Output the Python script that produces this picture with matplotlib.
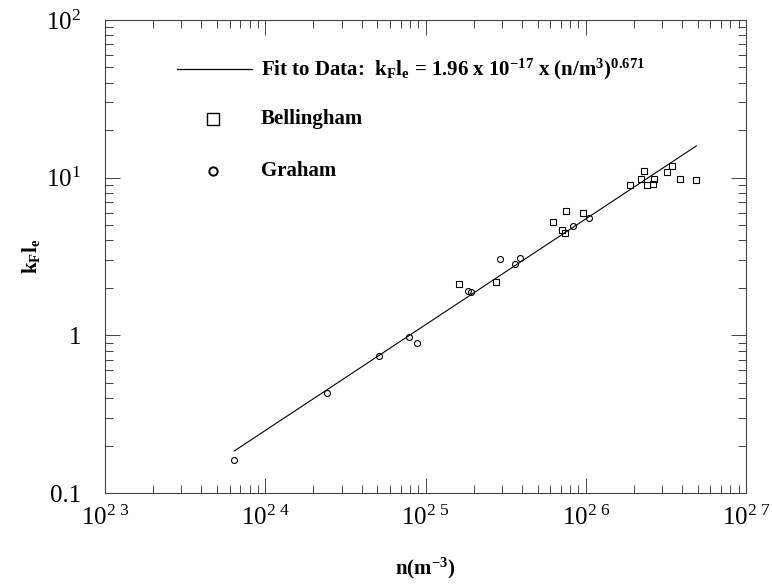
import numpy as np
import matplotlib
matplotlib.use("Agg")
import matplotlib.pyplot as plt
from matplotlib.ticker import LogLocator, NullFormatter, FixedLocator, FixedFormatter

plt.rcParams['font.family'] = ['Liberation Serif', 'DejaVu Serif']
plt.rcParams['mathtext.fontset'] = 'custom'
plt.rcParams['mathtext.rm'] = 'Liberation Serif'
plt.rcParams['mathtext.it'] = 'Liberation Serif:italic'
plt.rcParams['mathtext.bf'] = 'Liberation Serif:bold'

# ---- data ----
bellingham_n = [1.62e25, 2.75e25, 6.22e25, 7.54e25, 7.16e25, 7.45e25, 9.57e25,
                1.89e26, 2.20e26, 2.30e26, 2.40e26, 2.63e26, 2.68e26, 3.20e26,
                3.45e26, 3.87e26, 4.85e26]
bellingham_k = [2.11, 2.19, 5.22, 6.13, 4.68, 4.44, 6.00,
                8.95, 9.80, 11.1, 8.95, 9.15, 9.85, 10.8,
                11.9, 9.77, 9.66]

graham_n = [6.38e23, 2.43e24, 5.10e24, 7.85e24, 8.81e24, 1.85e25, 1.92e25,
            2.90e25, 3.61e25, 3.89e25, 8.36e25, 1.055e26]
graham_k = [0.161, 0.431, 0.739, 0.976, 0.897, 1.90, 1.87,
            3.03, 2.83, 3.08, 4.97, 5.51]

fit_coef = 1.96e-17
fit_exp = 0.671
fit_range = [6.4e23, 4.9e26]

x_exponents = [23, 24, 25, 26, 27]
y_ticks = [0.1, 1, 10, 100]
y_ticklabels = ['0.1', '1', r'10$^{\mathrm{1}}$', r'10$^{\mathrm{2}}$']

fig = plt.figure(figsize=(7.72, 5.85), dpi=100)
ax = fig.add_axes([105/772, 1-493/585, 641/772, 473/585])

fit_n = np.logspace(np.log10(fit_range[0]), np.log10(fit_range[1]), 50)
ax.plot(fit_n, fit_coef * fit_n**fit_exp, color='black', lw=0.8)
ax.plot(bellingham_n, bellingham_k, linestyle='none', marker='s', ms=5,
        mfc='none', mec='black', mew=0.8)
ax.plot(graham_n, graham_k, linestyle='none', marker='o', ms=4.3,
        mfc='none', mec='black', mew=0.8)

ax.set_xscale('log')
ax.set_yscale('log')
ax.set_xlim(10.0**x_exponents[0], 10.0**x_exponents[-1])
ax.set_ylim(y_ticks[0], y_ticks[-1])

xt = [10.0**e for e in x_exponents]
ax.xaxis.set_major_locator(FixedLocator(xt))
ax.xaxis.set_major_formatter(FixedFormatter(
    [r'10$^{\mathrm{%s\ %s}}$' % (str(e)[0], str(e)[1]) for e in x_exponents]))
ax.yaxis.set_major_locator(FixedLocator(y_ticks))
ax.yaxis.set_major_formatter(FixedFormatter(y_ticklabels))
for axis in (ax.xaxis, ax.yaxis):
    axis.set_minor_locator(LogLocator(base=10, subs=np.arange(2, 10), numticks=20))
    axis.set_minor_formatter(NullFormatter())

ax.tick_params(which='both', direction='in', top=True, right=True,
               color='#444444', width=0.7)
ax.tick_params(which='major', length=11)
ax.tick_params(which='minor', length=5.5)
ax.tick_params(axis='x', which='major', labelsize=18, pad=9)
ax.tick_params(axis='y', which='major', labelsize=18, pad=17)
for s in ax.spines.values():
    s.set_linewidth(0.8)
    s.set_color('#444444')

ax.set_xlabel(r'n(m$^{\mathbf{-3}}$)', fontsize=15, fontweight='bold', labelpad=19)
ax.set_ylabel(r'$\mathbf{k_F l_e}$', fontsize=15, fontweight='bold', labelpad=3)

# legend (hand placed)
ax.plot([0.1123, 0.2293], [0.8964, 0.8964], transform=ax.transAxes, color='black', lw=0.9)
ax.text(0.2434, 0.8964,
        r'Fit to Data:  $\mathbf{k_F l_e}$ = 1.96 x 10$^{\mathbf{-17}}$ x (n/m$^{\mathbf{3}}$)$^{\mathbf{0.671}}$',
        transform=ax.transAxes, fontsize=15, fontweight='bold', va='center', ha='left')
ax.plot([0.1685], [0.7907], transform=ax.transAxes, marker='s', ms=8,
        mfc='none', mec='black', mew=1.0, linestyle='none')
ax.text(0.2434, 0.7907, 'Bellingham', transform=ax.transAxes, fontsize=15,
        fontweight='bold', va='center', ha='left')
ax.plot([0.1685], [0.6808], transform=ax.transAxes, marker='o', ms=6,
        mfc='none', mec='black', mew=1.4, linestyle='none')
ax.text(0.2434, 0.6808, 'Graham', transform=ax.transAxes, fontsize=15,
        fontweight='bold', va='center', ha='left')

fig.savefig('out.png', dpi=100)
